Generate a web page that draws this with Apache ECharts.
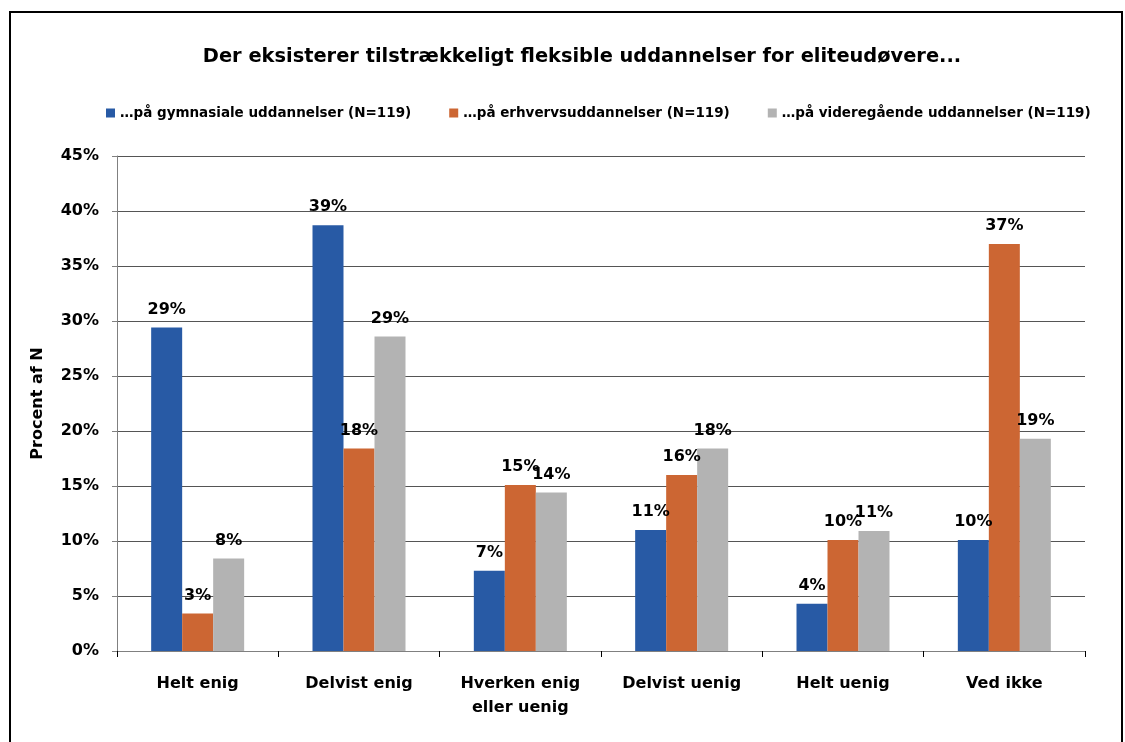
<!DOCTYPE html>
<html><head><meta charset="utf-8">
<script src="https://cdn.jsdelivr.net/npm/echarts@6/dist/echarts.min.js"></script>
<style>html,body{margin:0;padding:0;background:#fff}#c{width:1125px;height:742px}</style>
</head><body><div id="c"></div>
<script>
const categories = ['Helt enig','Delvist enig','Hverken enig\neller uenig','Delvist uenig','Helt uenig','Ved ikke'];
const seriesNames = ['…på gymnasiale uddannelser (N=119)','…på erhvervsuddannelser (N=119)','…på videregående uddannelser (N=119)'];
const gymnasiale = [29.4, 38.7, 7.3, 11.0, 4.3, 10.1];
const erhverv = [3.4, 18.4, 15.1, 16.0, 10.1, 37.0];
const videregaaende = [8.4, 28.6, 14.4, 18.4, 10.9, 19.3];
const yTicks = [0,5,10,15,20,25,30,35,40,45];
const colors = ['#285aa5','#cc6633','#b3b3b3'];
const F = 'DejaVu Sans, sans-serif';
const chart = echarts.init(document.getElementById('c'));
const mk = (name, data, i) => ({
  name, type:'bar', data, barWidth:31, barGap:'0%',
  itemStyle:{color:colors[i]},
  label:{show:true, position:'top', distance:10, formatter:p=>Math.round(p.value)+'%',
    fontFamily:F, fontWeight:'bold', fontSize:16, color:'#000'}
});
chart.setOption({
  animation:false,
  graphic:[{type:'rect', shape:{x:10,y:12,width:1112,height:740}, style:{fill:'none',stroke:'#000',lineWidth:2}, silent:true}],
  title:{text:'Der eksisterer tilstrækkeligt fleksible uddannelser for eliteudøvere...', left:577, textAlign:'center', top:42,
    textStyle:{fontFamily:F, fontWeight:'bold', fontSize:19.4, color:'#000'}},
  legend:{top:101, left:101, itemWidth:9, itemHeight:9, itemGap:38, icon:'rect',
    textStyle:{fontFamily:F, fontWeight:'bold', fontSize:13.5, color:'#000'},
    data:seriesNames},
  grid:{left:117, right:40, top:156, bottom:91},
  xAxis:{type:'category', data:categories,
    axisLine:{lineStyle:{color:'#808080', width:1}},
    axisTick:{show:true, length:6, lineStyle:{color:'#000'}},
    axisLabel:{fontFamily:F, fontWeight:'bold', fontSize:16, color:'#000', margin:21, lineHeight:24}},
  yAxis:{type:'value', min:0, max:45, interval:5,
    name:'Procent af N', nameLocation:'middle', nameGap:71, nameRotate:90,
    nameTextStyle:{fontFamily:F, fontWeight:'bold', fontSize:16, color:'#000'},
    axisLine:{show:true, lineStyle:{color:'#808080'}},
    axisTick:{show:true, length:5, lineStyle:{color:'#808080'}},
    splitLine:{lineStyle:{color:'#555', width:1}},
    axisLabel:{fontFamily:F, fontWeight:'bold', fontSize:16, color:'#000', margin:18,
      formatter:v=>yTicks.includes(v)? v+'%' : ''}},
  series:[mk(seriesNames[0], gymnasiale, 0), mk(seriesNames[1], erhverv, 1), mk(seriesNames[2], videregaaende, 2)]
});
</script></body></html>
